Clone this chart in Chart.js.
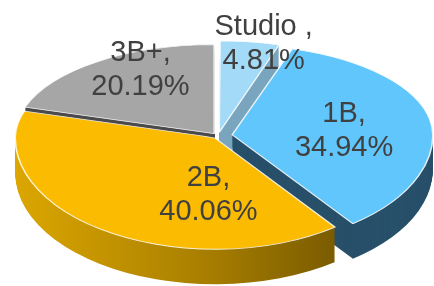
<!DOCTYPE html>
<html>
<head>
<meta charset="utf-8">
<script src="https://cdn.jsdelivr.net/npm/chart.js@4.4.0/dist/chart.umd.min.js"></script>
<style>
  html, body { margin: 0; padding: 0; background: #fff; }
  #wrap { width: 434px; height: 286px; }
</style>
</head>
<body>
<div id="wrap"><canvas id="myChart"></canvas></div>
<script>
// data
const categories = ['Studio ', '1B', '2B', '3B+'];
const shares = [4.81, 34.94, 40.06, 20.19];

// look
const topColors = ['#a3daf8', '#61c6fb', '#fbbb00', '#a6a6a6'];
const sideColors = ['#7aa5be', '#28506a', null, '#4b4b4b']; // null -> gradient
const sideGradient = ['#dba600', '#a57c00', '#5e4600'];
const explode = [20, 36, 12, 16];

// projection of the flat pie onto a tilted ellipse
const CX = 218, CY = 136;
const RX = 198, RY_TOP = 89, RY_BOTTOM = 110;
const DEPTH = 35;

// label placement
const LABEL_FRAC = 0.62;
const labelNudge = [[26, -34], [-9, 5], [64, 1], [-1, -19]];
const LINE = 34;

function proj(chart) {
  const a0 = chart.getDatasetMeta(0).data[0];
  const R = a0.outerRadius;
  return { R, x: a0.x, y: a0.y, sx: RX / R, syT: RY_TOP / R, syB: RY_BOTTOM / R };
}

const pie3d = {
  id: 'pie3d',
  beforeDatasetsDraw(chart) {
    const ctx = chart.ctx;
    const arcs = chart.getDatasetMeta(0).data;
    const p = proj(chart);
    const W = chart.width, H = chart.height;

    function warped(dy, fn) {
      const halves = [[-H, CY + H, p.syT], [CY, 2 * H, p.syB]];
      halves.forEach(([top, h, sy]) => {
        ctx.save();
        ctx.translate(0, dy);
        ctx.beginPath();
        ctx.rect(0, top, W, h);
        ctx.clip();
        ctx.translate(CX, CY);
        ctx.scale(p.sx, sy);
        ctx.translate(-p.x, -p.y);
        fn();
        ctx.restore();
      });
    }

    const mid = a => (a.startAngle + a.endAngle) / 2;
    const order = arcs.map((a, i) => i).sort((i, j) => Math.sin(mid(arcs[i])) - Math.sin(mid(arcs[j])));

    // sides, back to front
    order.forEach(i => {
      const arc = arcs[i];
      const base = arc.options;
      let fill = sideColors[i];
      if (!fill) {
        fill = ctx.createLinearGradient(p.x - p.R, 0, p.x + p.R, 0);
        sideGradient.forEach((c, k) => fill.addColorStop(k / (sideGradient.length - 1), c));
      }
      arc.options = Object.assign({}, base, { backgroundColor: fill, borderWidth: 0 });
      for (let d = DEPTH; d >= 1; d--) warped(d, () => arc.draw(ctx));
      arc.options = base;
    });

    // top faces
    arcs.forEach(arc => warped(0, () => arc.draw(ctx)));
    return false;
  },
  afterDraw(chart) {
    const ctx = chart.ctx;
    const arcs = chart.getDatasetMeta(0).data;
    const p = proj(chart);
    ctx.save();
    ctx.font = '29px "Liberation Sans", Arial, sans-serif';
    ctx.fillStyle = '#404040';
    ctx.textAlign = 'center';
    ctx.textBaseline = 'middle';
    arcs.forEach((arc, i) => {
      const m = (arc.startAngle + arc.endAngle) / 2;
      const r = arc.outerRadius * LABEL_FRAC + (arc.options.offset || 0) / 4;
      const px = Math.cos(m) * r, py = Math.sin(m) * r;
      const X = CX + px * p.sx + labelNudge[i][0];
      const Y = CY + py * (py < 0 ? p.syT : p.syB) + labelNudge[i][1];
      ctx.fillText(categories[i] + ',', X, Y - LINE / 2);
      ctx.fillText(shares[i].toFixed(2) + '%', X, Y + LINE / 2);
    });
    ctx.restore();
  }
};

let ctx = document.getElementById('myChart').getContext('2d');
let myChart = new Chart(ctx, {
  type: 'pie',
  data: {
    labels: categories,
    datasets: [{
      data: shares,
      backgroundColor: topColors,
      borderColor: 'rgba(255,255,255,0.85)',
      borderWidth: 1,
      offset: explode,
      clip: false
    }]
  },
  options: {
    responsive: true,
    maintainAspectRatio: false,
    animation: false,
    events: [],
    layout: { padding: 0 },
    plugins: {
      legend: { display: false },
      tooltip: { enabled: false }
    }
  },
  plugins: [pie3d]
});
</script>
</body>
</html>
